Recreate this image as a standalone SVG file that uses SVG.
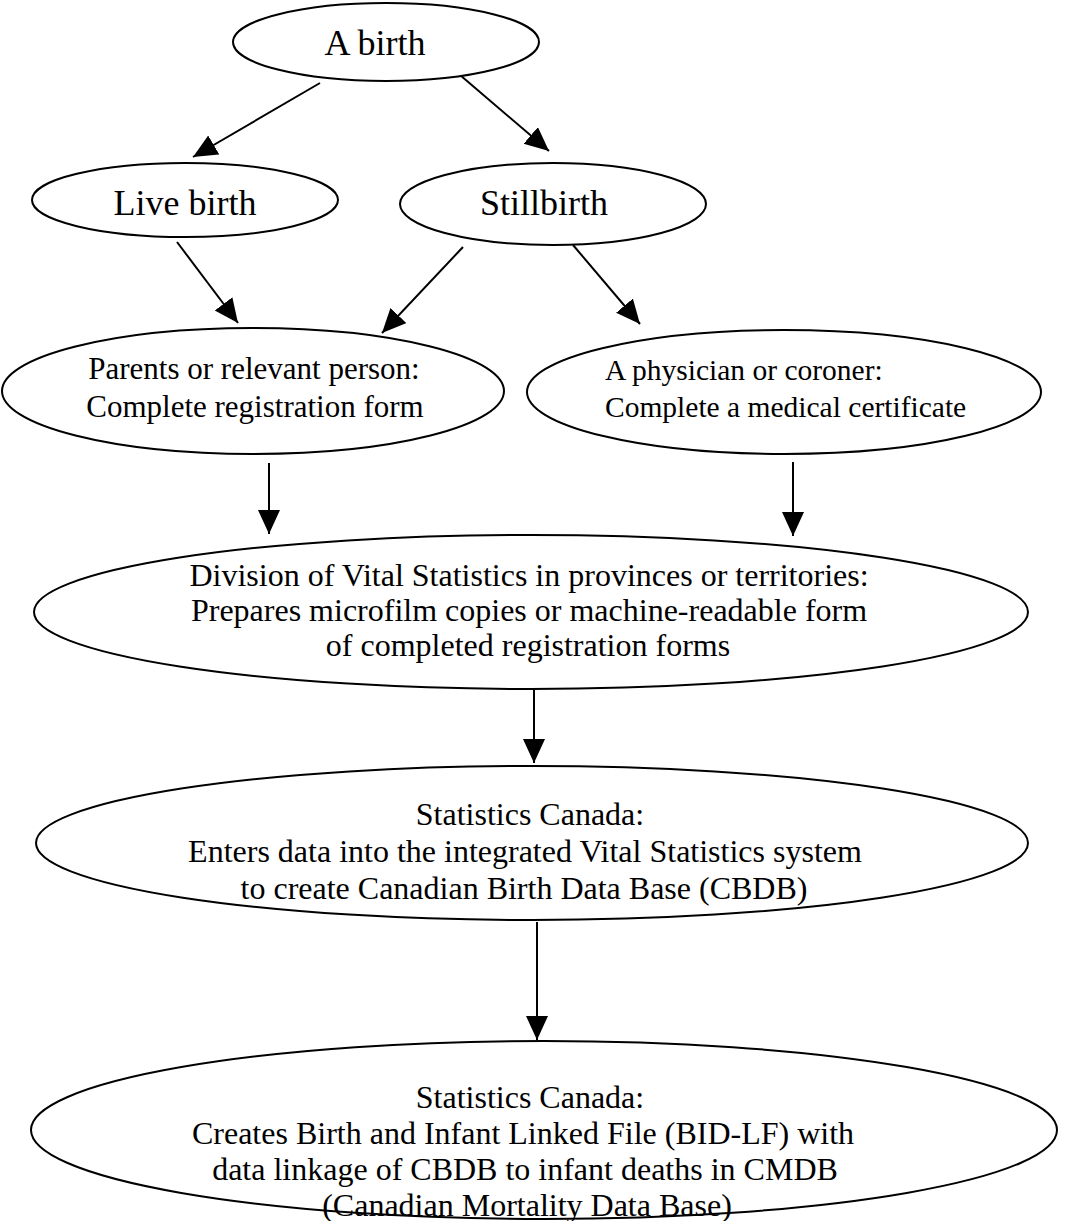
<svg xmlns="http://www.w3.org/2000/svg" width="1087" height="1221" viewBox="0 0 1087 1221">
<style>
.n{fill:#fff;stroke:#000;stroke-width:2}
.t{font-family:"Liberation Serif","Times New Roman",serif;fill:#000;text-anchor:middle}
.s{text-anchor:start}
.c{stroke:#000;stroke-width:2;fill:none;marker-end:url(#ah)}
</style>
<defs>
<marker id="ah" markerUnits="userSpaceOnUse" markerWidth="26" markerHeight="24" refX="24" refY="11" orient="auto">
<path d="M0,0 L24,11 L0,22 z" fill="#000"/>
</marker>
</defs>
<rect width="1087" height="1221" fill="#fff"/>
<g id="connectors">
<line class="c" x1="320" y1="83" x2="193" y2="157"/>
<line class="c" x1="460" y1="75" x2="549" y2="151"/>
<line class="c" x1="177" y1="242" x2="238" y2="323"/>
<line class="c" x1="463" y1="247" x2="382" y2="333"/>
<line class="c" x1="573" y1="245" x2="640" y2="324"/>
<line class="c" x1="269" y1="463" x2="269" y2="534"/>
<line class="c" x1="793" y1="462" x2="793" y2="536"/>
<line class="c" x1="534" y1="690" x2="534" y2="763"/>
<line class="c" x1="537" y1="922" x2="537" y2="1040"/>
</g>
<g id="n1"><ellipse class="n" cx="386" cy="42" rx="153" ry="39"/><text class="t" x="375" y="55" font-size="36">A birth</text></g>
<g id="n2"><ellipse class="n" cx="185" cy="200" rx="153" ry="37"/><text class="t" x="185" y="215" font-size="36">Live birth</text></g>
<g id="n3"><ellipse class="n" cx="553" cy="204" rx="153" ry="41"/><text class="t" x="544" y="215" font-size="36">Stillbirth</text></g>
<g id="n4"><ellipse class="n" cx="253" cy="391" rx="251" ry="63"/><text class="t" x="254" y="379" font-size="31">Parents or relevant person:</text><text class="t" x="255" y="417" font-size="31">Complete registration form</text></g>
<g id="n5"><ellipse class="n" cx="784" cy="392" rx="257" ry="62"/><text class="t s" x="605" y="380" font-size="29.5">A physician or coroner:</text><text class="t s" x="605" y="417" font-size="29.5">Complete a medical certificate</text></g>
<g id="n6"><ellipse class="n" cx="531" cy="612" rx="497" ry="77"/><text class="t" x="529" y="586" font-size="32">Division of Vital Statistics in provinces or territories:</text><text class="t" x="529" y="621" font-size="32">Prepares microfilm copies or machine-readable form</text><text class="t" x="528" y="656" font-size="32">of completed registration forms</text></g>
<g id="n7"><ellipse class="n" cx="532" cy="843" rx="496" ry="77"/><text class="t" x="530" y="825" font-size="32">Statistics Canada:</text><text class="t" x="525" y="862" font-size="32">Enters data into the integrated Vital Statistics system</text><text class="t" x="524" y="899" font-size="32">to create Canadian Birth Data Base (CBDB)</text></g>
<g id="n8"><ellipse class="n" cx="544" cy="1130" rx="513" ry="89"/><text class="t" x="530" y="1108" font-size="32">Statistics Canada:</text><text class="t" x="523" y="1144" font-size="32">Creates Birth and Infant Linked File (BID-LF) with</text><text class="t" x="525" y="1180" font-size="32">data linkage of CBDB to infant deaths in CMDB</text><text class="t" x="527" y="1216" font-size="32">(Canadian Mortality Data Base)</text></g>
</svg>
